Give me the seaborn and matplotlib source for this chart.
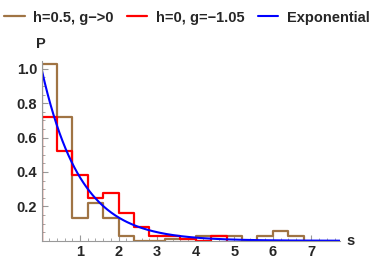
import numpy as np
import pandas as pd
import matplotlib
matplotlib.use("Agg")
import matplotlib.pyplot as plt
from matplotlib.ticker import MultipleLocator
import seaborn as sns

# histogram bins (width 0.4)
bin_width = 0.4
brown_vals = [1.03, 0.72, 0.135, 0.22, 0.135, 0.028, 0.0, 0.0, 0.012, 0.012,
              0.03, 0.03, 0.03, 0.0, 0.03, 0.057, 0.03]
red_vals = [0.72, 0.52, 0.384, 0.248, 0.277, 0.164, 0.082, 0.025, 0.025,
            0.008, 0.0, 0.028]
brown_label = "h=0.5, g\u2212>0"
red_label = "h=0, g=\u22121.05"
exp_label = "Exponential"
x_ticks = [1, 2, 3, 4, 5, 6, 7]
y_ticks = [0.2, 0.4, 0.6, 0.8, 1.0]

BROWN = "#A07444"
RED = "#FF0000"
BLUE = "#0000FF"


def step_frame(vals):
    edges = np.arange(len(vals) + 1) * bin_width
    ys = [0.0] + list(vals) + [0.0]
    xs = [0.0] + list(edges)
    return pd.DataFrame({"s": xs, "P": ys})


df_brown = step_frame(brown_vals)
df_red = step_frame(red_vals)
s = np.linspace(0, 7.74, 300)
df_exp = pd.DataFrame({"s": s, "P": np.exp(-s)})

sns.set_theme(style="white")
plt.rcParams["font.family"] = ["Liberation Sans", "DejaVu Sans"]

fig = plt.figure(figsize=(3.74, 2.62), dpi=100)
ax = fig.add_axes([0.111, 0.081, 0.798, 0.686])

sns.lineplot(data=df_brown, x="s", y="P", drawstyle="steps-post", color=BROWN,
             linewidth=1.6, estimator=None, sort=False, label=brown_label, ax=ax)
sns.lineplot(data=df_red, x="s", y="P", drawstyle="steps-post", color=RED,
             linewidth=1.6, estimator=None, sort=False, label=red_label, ax=ax)
sns.lineplot(data=df_exp, x="s", y="P", color=BLUE, linewidth=1.5,
             estimator=None, sort=False, label=exp_label, ax=ax)

ax.set_xlim(0, 7.74)
ax.set_ylim(0, 1.045)
for side in ["top", "right"]:
    ax.spines[side].set_visible(False)
for side in ["left", "bottom"]:
    ax.spines[side].set_color("#999999")
    ax.spines[side].set_linewidth(0.8)
    ax.spines[side].set_position(("data", 0))

ax.set_xticks(x_ticks)
ax.set_yticks(y_ticks)
ax.set_yticklabels([f"{v:.1f}" for v in y_ticks])
ax.xaxis.set_minor_locator(MultipleLocator(0.2))
ax.yaxis.set_minor_locator(MultipleLocator(0.05))
ax.tick_params(which="major", direction="in", length=4, width=0.8, color="#999999",
               labelsize=10.5, pad=3)
ax.tick_params(which="minor", direction="in", length=2, width=0.6, color="#999999")
ax.tick_params(axis="x", which="both", bottom=True, top=False)
ax.tick_params(axis="y", which="both", left=True, right=False)
for lab in ax.get_xticklabels() + ax.get_yticklabels():
    lab.set_fontweight("bold")
ax.set_xlabel("")
ax.set_ylabel("")

fig.text(41 / 374, 1 - 44 / 262, "P", fontsize=10.5, fontweight="bold",
         ha="center", va="center")
fig.text(351 / 374, 1 - 241 / 262, "s", fontsize=10.5, fontweight="bold",
         ha="center", va="center")

handles, labels = ax.get_legend_handles_labels()
ax.get_legend().remove()
fig.legend(handles, labels, loc="upper center", bbox_to_anchor=(0.5, 1.01),
           ncol=3, frameon=False, handlelength=1.4, handletextpad=0.6,
           columnspacing=0.9, prop={"weight": "bold", "size": 10.5})

fig.savefig("out.png", dpi=100)
